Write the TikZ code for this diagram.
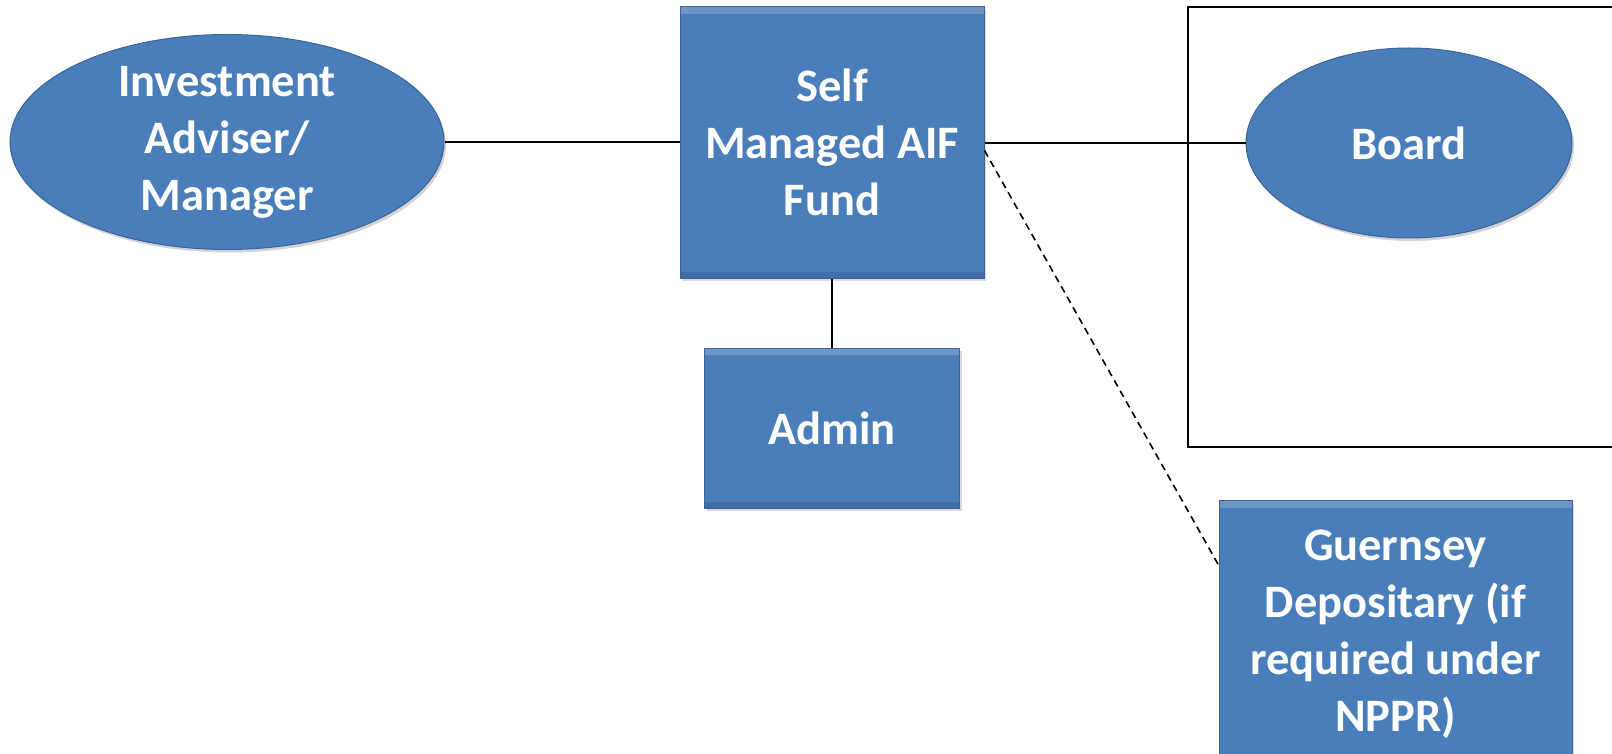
\documentclass[tikz,border=0pt]{standalone}
\usepackage{fontspec}
\setmainfont{Carlito}
\usetikzlibrary{positioning,shapes.geometric,shadows}
\definecolor{fillblue}{RGB}{74,126,187}
\definecolor{edgeblue}{RGB}{58,100,152}

\begin{document}
\begin{tikzpicture}[x=1pt,y=-1pt,
    every node/.style={font=\fontsize{46.5}{57}\selectfont\bfseries,text=white,align=center},
    box/.style={rectangle,draw=edgeblue,line width=1pt,fill=fillblue,inner sep=0pt,
      drop shadow={shadow xshift=2pt,shadow yshift=-3pt,opacity=.3},
      path picture={\fill[white,opacity=.2] (path picture bounding box.north west) rectangle ([yshift=-7pt]path picture bounding box.north east);
        \fill[black,opacity=.12] (path picture bounding box.south west) rectangle ([yshift=6pt]path picture bounding box.south east);}},
    oval/.style={ellipse,draw=edgeblue,line width=1pt,fill=fillblue,inner sep=0pt,
      drop shadow={shadow xshift=2pt,shadow yshift=-3pt,opacity=.35}},
    link/.style={line width=2pt},
    duty/.style={line width=1.6pt,dash pattern=on 7pt off 5pt}]
  \useasboundingbox (0,0) rectangle (1612,754);
  % frame round the board
  \draw[link] (1188,7) rectangle (1660,447);
  \node[oval,minimum width=434pt,minimum height=209pt](inv) at (227,142) {Investment\\Adviser/\\Manager};
  \node[box,minimum width=304pt,minimum height=271pt](fund) at (832,142.5) {Self\\Managed AIF\\Fund};
  \node[box,minimum width=255pt,minimum height=160pt](admin)[below=69pt of fund] {Admin};
  \node[oval,minimum width=326pt,minimum height=190pt](board) at (1409,143) {Board};
  \node[box,anchor=north,minimum width=353pt,inner ysep=30pt,text depth=260pt](guern) at (1395.5,500)
    {Guernsey\\Depositary (if\\required under\\NPPR)};
  \draw[link] (inv.east) -- (inv.east -| fund.west);
  \draw[link] (fund.east |- board.west) -- (board.west);
  \draw[link] (fund.south) -- (admin.north);
  \draw[duty] (fund.-3) -- ([yshift=-65pt]guern.north west);
\end{tikzpicture}
\end{document}
